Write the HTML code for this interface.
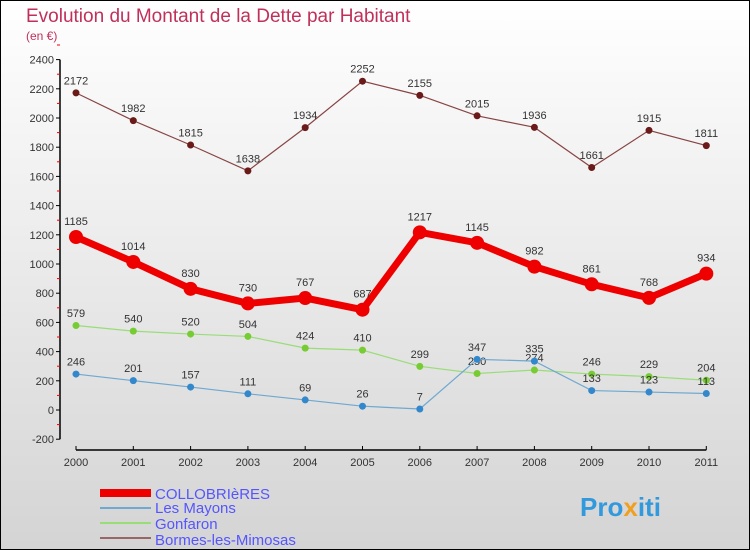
<!DOCTYPE html>
<html><head><meta charset="utf-8"><style>
body{margin:0;}
svg{display:block;font-family:"Liberation Sans",sans-serif;}
</style></head><body>
<svg id="c" width="750" height="550" xmlns="http://www.w3.org/2000/svg">
<defs><linearGradient id="bg" x1="0" y1="0" x2="0" y2="1"><stop offset="0" stop-color="#ffffff"/><stop offset="1" stop-color="#d4d4d4"/></linearGradient></defs>
<rect x="0.5" y="0.5" width="749" height="549" fill="url(#bg)" stroke="#000"/>
<text x="26" y="22" font-size="19" fill="#c0305a">Evolution du Montant de la Dette par Habitant</text>
<text x="26" y="40" font-size="12" fill="#c0305a">(en €)</text>
<g id="axes"></g><g id="series"></g>
<g>
<rect x="100" y="489" width="51" height="8" fill="#e00"/>
<text x="155" y="499" font-size="15" fill="#5555ff">COLLOBRIèRES</text>
<line x1="100" y1="508" x2="151" y2="508" stroke="#6fa8d0" stroke-width="2"/>
<text x="155" y="513" font-size="15" fill="#5555ff">Les Mayons</text>
<line x1="100" y1="523" x2="151" y2="523" stroke="#99dd77" stroke-width="2"/>
<text x="155" y="529" font-size="15" fill="#5555ff">Gonfaron</text>
<line x1="100" y1="538" x2="151" y2="538" stroke="#996666" stroke-width="2"/>
<text x="155" y="545" font-size="15" fill="#5555ff">Bormes-les-Mimosas</text>
</g>
<text x="580" y="516" font-size="26" font-weight="bold" fill="#3399dd">Pro<tspan fill="#f0a020">x</tspan>iti</text>
</svg>
<script>
const years=["2000","2001","2002","2003","2004","2005","2006","2007","2008","2009","2010","2011"];
const yTicks=[-200,0,200,400,600,800,1000,1200,1400,1600,1800,2000,2200,2400];
const collobrieres=[1185,1014,830,730,767,687,1217,1145,982,861,768,934];
const lesMayons=[246,201,157,111,69,26,7,347,335,133,123,113];
const gonfaron=[579,540,520,504,424,410,299,250,274,246,229,204];
const bormes=[2172,1982,1815,1638,1934,2252,2155,2015,1936,1661,1915,1811];
const NS="http://www.w3.org/2000/svg";
const X=i=>76+i*57.3;
const Y=v=>410-v*0.146;
function mk(t,a,p){const e=document.createElementNS(NS,t);for(const k in a)e.setAttribute(k,a[k]);p.appendChild(e);return e;}
const ax=document.getElementById('axes');
const ya=mk('line',{x1:60,y1:Y(2400),x2:60,y2:Y(-200),stroke:'#000','stroke-width':1.5},ax);


yTicks.forEach(v=>{
 mk('line',{x1:56,y1:Y(v),x2:60,y2:Y(v),stroke:'#000'},ax);
 mk('line',{x1:57,y1:Y(v+100),x2:60,y2:Y(v+100),stroke:'#e00'},ax);
 const t=mk('text',{x:54,y:Y(v)+4,'font-size':11,fill:'#333','text-anchor':'end'},ax);t.textContent=v;
 
 
});
const xa=mk('line',{x1:X(0),y1:450,x2:X(11),y2:450,stroke:'#000','stroke-width':1.5},ax);


years.forEach((y,i)=>{
 mk('line',{x1:X(i),y1:446,x2:X(i),y2:450,stroke:'#000'},ax);
 const t=mk('text',{x:X(i),y:466,'font-size':11,fill:'#333','text-anchor':'middle'},ax);t.textContent=y;
 
 
});
const sg=document.getElementById('series');
function series(data,name,color,dot,w,r,fs){
 const g=mk('g',{},sg);
 
 
 mk('polyline',{points:data.map((v,i)=>X(i)+','+Y(v)).join(' '),fill:'none',stroke:color,'stroke-width':w},g);
 data.forEach((v,i)=>{
  const c=mk('circle',{cx:X(i),cy:Y(v),r:r,fill:dot},g);
  
  
  const t=mk('text',{x:X(i),y:Y(v)-(r+5),'font-size':fs,fill:'#333','text-anchor':'middle'},g);t.textContent=v;
 });
}
series(bormes,'bormes-series','#884444','#6b1a1a',1.2,3.5,11);
series(gonfaron,'gonfaron-series','#99dd77','#77cc33',1.2,3.5,11);
series(lesMayons,'les-mayons-series','#6fa8d0','#3388cc',1.2,3.5,11);
series(collobrieres,'collobrieres-series','#ee0000','#ee0000',7,7,11);
</script>
</body></html>
